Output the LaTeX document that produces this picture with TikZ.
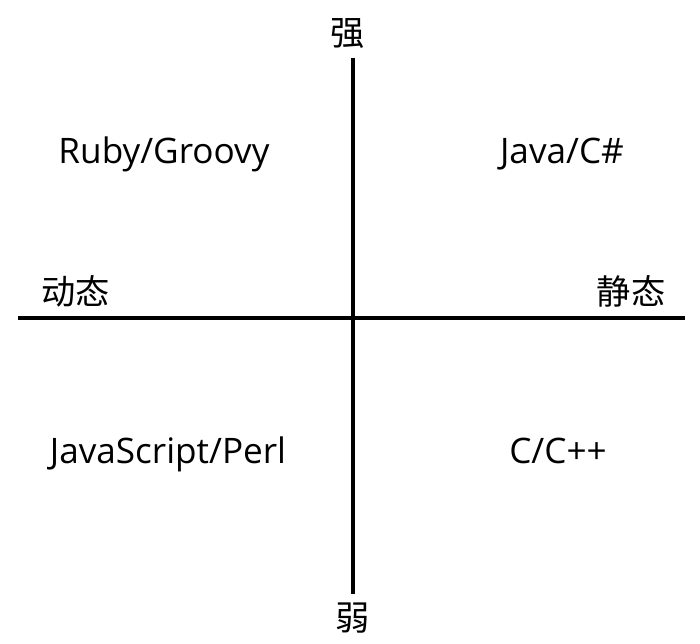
\documentclass[tikz,border=0pt]{standalone}
\usepackage{fontspec}
\setmainfont{Open Sans}
\newfontfamily\cjk{Noto Sans CJK SC}
\tikzset{
  axis/.style={line width=2.8pt},
  lang/.style={anchor=base,inner sep=0pt,font=\fontsize{20}{24}\selectfont},
  pole/.style={inner sep=0pt,font=\cjk\fontsize{19.5}{22}\selectfont},
}
\begin{document}
\begin{tikzpicture}[x=0.02cm,y=-0.02cm]
\useasboundingbox (0,0) rectangle (700,643);
\coordinate (left) at (18,318);
\coordinate (right) at (685,318);
\coordinate (top) at (353,58);
\coordinate (bottom) at (353,594);
\node[pole] (strong) at (348,34) {强};
\node[pole] (weak) at (353,618) {弱};
\node[pole] (dynamic) at (76,291) {动态};
\node[pole] (static) at (631,291) {静态};
\node[lang] (ruby) at (164,163) {Ruby/Groovy};
\node[lang] (java) at (562,163) {Java/C\#};
\node[lang] (js) at (168,463) {JavaScript/Perl};
\node[lang] (c) at (558,463) {C/C++};
\draw[axis] (left) -- (right);
\draw[axis] (top) -- (bottom);
\end{tikzpicture}
\end{document}
